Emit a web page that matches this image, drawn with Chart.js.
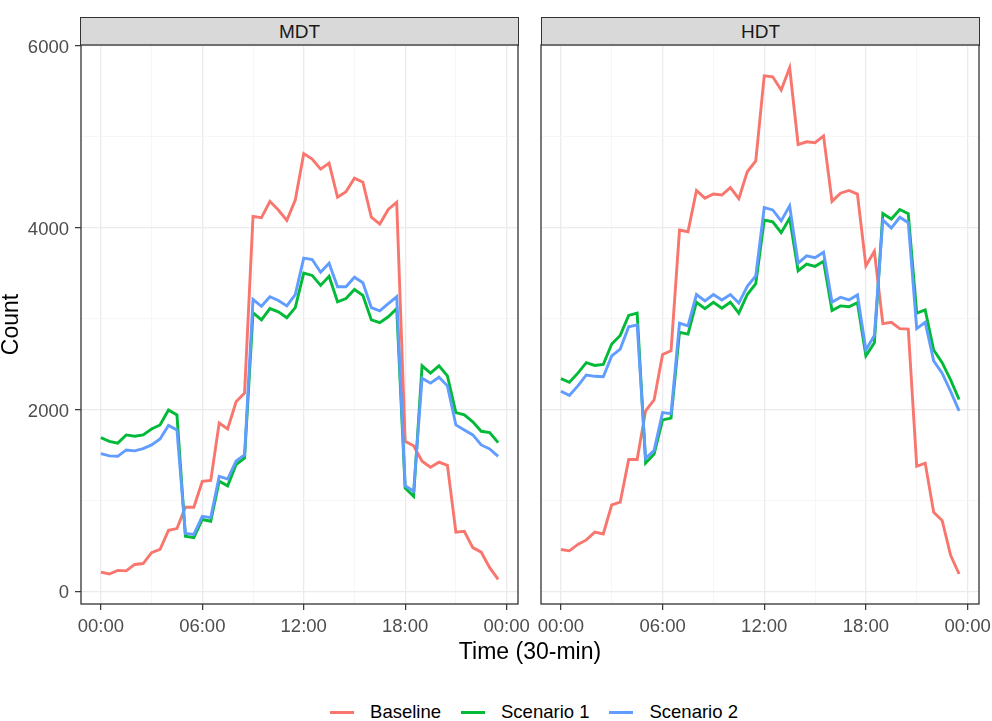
<!DOCTYPE html>
<html>
<head>
<meta charset="utf-8">
<script src="https://cdn.jsdelivr.net/npm/chart.js@4.4.0/dist/chart.umd.min.js"></script>
<style>
  html, body { margin:0; padding:0; background:#ffffff; }
  body { width:992px; height:721px; position:relative; overflow:hidden; font-family:"Liberation Sans", Arial, sans-serif; }
  canvas { position:absolute; }
  .strip { position:absolute; top:17px; height:29px; box-sizing:border-box; border:1.3px solid #333333; background:#D9D9D9; color:#1A1A1A; font-size:19px; line-height:27px; text-align:center; }
  #xtitle { position:absolute; left:330px; width:400px; top:638px; font-size:23px; line-height:27px; text-align:center; color:#000; }
  #legend { position:absolute; left:0; width:1068px; top:701px; height:22px; display:flex; justify-content:center; align-items:center; font-size:18.5px; line-height:22px; color:#000; }
  #legend .item { display:flex; align-items:center; margin:0 10px; }
  #legend .sw { display:inline-block; width:24px; height:3px; margin-right:16px; }
</style>
</head>
<body>
<div class="strip" style="left:80px; width:439px;">MDT</div>
<div class="strip" style="left:541px; width:439px;">HDT</div>
<canvas id="cMDT" width="545" height="610" style="left:0px; top:40px;"></canvas>
<canvas id="cHDT" width="462" height="610" style="left:530px; top:40px;"></canvas>
<div id="xtitle">Time (30-min)</div>
<div id="legend"></div>
<script>
// ---- categories (half-hour time slots) ----
const timeLabels = ["00:00","00:30","01:00","01:30","02:00","02:30","03:00","03:30",
  "04:00","04:30","05:00","05:30","06:00","06:30","07:00","07:30",
  "08:00","08:30","09:00","09:30","10:00","10:30","11:00","11:30",
  "12:00","12:30","13:00","13:30","14:00","14:30","15:00","15:30",
  "16:00","16:30","17:00","17:30","18:00","18:30","19:00","19:30",
  "20:00","20:30","21:00","21:30","22:00","22:30","23:00","23:30"];

// ---- series names ----
const seriesNames = ["Baseline","Scenario 1","Scenario 2"];
const panelNames = ["MDT","HDT"];

// ---- MDT values ----
const mdtBaseline = [210,190,230,225,295,305,425,460,670,690,925,925,1210,1220,1850,1785,
  2085,2180,4125,4110,4290,4195,4080,4305,4815,4755,4645,4710,4335,4395,4545,4500,
  4115,4040,4200,4280,1650,1600,1430,1365,1420,1385,650,660,480,430,260,130];
const mdtScenario1 = [1690,1650,1630,1720,1705,1720,1785,1830,1995,1940,605,590,790,770,1210,1160,
  1395,1465,3065,2985,3110,3075,3010,3120,3500,3475,3365,3465,3185,3220,3320,3255,
  2985,2955,3020,3110,1135,1045,2480,2400,2480,2370,1965,1940,1865,1760,1745,1635];
const mdtScenario2 = [1515,1490,1485,1555,1545,1570,1610,1675,1825,1775,635,625,825,810,1265,1235,
  1435,1500,3210,3135,3240,3200,3140,3265,3665,3650,3510,3610,3350,3350,3455,3395,
  3120,3085,3165,3240,1160,1100,2345,2290,2355,2260,1830,1775,1720,1610,1565,1485];

// ---- HDT values ----
const hdtBaseline = [460,445,515,565,650,630,950,980,1450,1450,1985,2105,2605,2645,3975,3955,
  4410,4325,4370,4360,4440,4320,4615,4735,5670,5660,5515,5760,4915,4945,4935,5010,
  4290,4380,4410,4370,3580,3740,2945,2960,2890,2885,1375,1410,870,780,395,190];
const hdtScenario1 = [2340,2300,2400,2515,2485,2495,2720,2815,3035,3060,1410,1510,1885,1905,2850,2830,
  3180,3110,3180,3115,3180,3060,3265,3385,4085,4065,3945,4105,3525,3600,3575,3630,
  3090,3140,3130,3175,2590,2735,4155,4095,4200,4155,3060,3095,2655,2515,2325,2110];
const hdtScenario2 = [2200,2155,2260,2380,2365,2360,2590,2665,2910,2930,1460,1550,1965,1955,2950,2920,
  3265,3195,3265,3205,3265,3170,3355,3470,4220,4195,4075,4240,3610,3690,3670,3730,
  3180,3235,3205,3260,2655,2815,4085,3995,4115,4055,2890,2960,2535,2400,2200,1985];

// ---- axis ticks ----
const xTickHours = [0,6,12,18,24];
const xTickLabels = ["00:00","06:00","12:00","18:00","00:00"];
const xMinorHours = [3,9,15,21];
const yTickValues = [0,2000,4000,6000];
const yMinorValues = [1000,3000,5000];

// ---- styling ----
const seriesColors = ["#F8766D","#00BA38","#619CFF"];
const FONT = '"Liberation Sans", Arial, sans-serif';

function toHours(lbl){ const p = lbl.split(":"); return Number(p[0]) + Number(p[1])/60; }

const panelBorder = {
  id:'panelBorder',
  afterDraw(chart){
    const a = chart.chartArea, ctx = chart.ctx;
    ctx.save();
    ctx.strokeStyle = '#333333';
    ctx.lineWidth = 1.3;
    ctx.strokeRect(a.left, a.top, a.right - a.left, a.bottom - a.top);
    ctx.restore();
  }
};

function makePanel(id, series, showY){
  const datasets = series.map((vals,k)=>({
    label: seriesNames[k],
    data: vals.map((v,i)=>({x: toHours(timeLabels[i]), y: v})),
    borderColor: seriesColors[k],
    backgroundColor: seriesColors[k],
    borderWidth: 2.9,
    pointRadius: 0,
    tension: 0,
    fill: false,
    order: 2 - k
  }));
  const isMajX = v => xTickHours.indexOf(v) >= 0;
  const isMajY = v => yTickValues.indexOf(v) >= 0;
  return new Chart(document.getElementById(id), {
    type:'line',
    data:{ datasets },
    plugins:[panelBorder],
    options:{
      responsive:false,
      animation:false,
      devicePixelRatio:1,
      layout:{ padding:{ top:5, left:0, bottom:0, right: showY ? 27 : 13 } },
      plugins:{ legend:{display:false}, tooltip:{enabled:false}, title:{display:false} },
      scales:{
        x:{
          type:'linear', min:-1.175, max:24.675,
          afterBuildTicks: s => { s.ticks = xTickHours.concat(xMinorHours).sort((a,b)=>a-b).map(v=>({value:v})); },
          afterFit: s => { s.height = 46; s.paddingLeft = 0; s.paddingRight = 0; },
          border:{ display:false },
          grid:{
            color: c => isMajX(c.tick && c.tick.value) ? '#EBEBEB' : '#F4F4F4',
            lineWidth: c => isMajX(c.tick && c.tick.value) ? 1.3 : 0.8,
            tickColor: c => isMajX(c.tick && c.tick.value) ? '#333333' : 'rgba(0,0,0,0)',
            tickLength: 6,
            tickWidth: 1.2
          },
          ticks:{
            autoSkip:false, maxRotation:0, minRotation:0, padding:6,
            color:'#4D4D4D', font:{ family:FONT, size:18.5 },
            callback: v => { const i = xTickHours.indexOf(v); return i >= 0 ? xTickLabels[i] : ''; }
          }
        },
        y:{
          type:'linear', min:-140, max:6010,
          afterBuildTicks: s => { s.ticks = yTickValues.concat(yMinorValues).sort((a,b)=>a-b).map(v=>({value:v})); },
          afterFit: s => { s.width = showY ? 81 : 11; s.paddingTop = 0; s.paddingBottom = 0; },
          border:{ display:false },
          grid:{
            color: c => isMajY(c.tick && c.tick.value) ? '#EBEBEB' : '#F4F4F4',
            lineWidth: c => isMajY(c.tick && c.tick.value) ? 1.3 : 0.8,
            tickColor: c => (showY && isMajY(c.tick && c.tick.value)) ? '#333333' : 'rgba(0,0,0,0)',
            tickLength: 6,
            tickWidth: 1.2
          },
          ticks:{
            display: showY, padding:6, labelOffset:2,
            color:'#4D4D4D', font:{ family:FONT, size:18.5 },
            callback: v => isMajY(v) ? String(v) : ''
          },
          title:{
            display: showY, text:'Count', color:'#000000',
            font:{ family:FONT, size:23, lineHeight:1 }, padding:{top:0, bottom:0}
          }
        }
      }
    }
  });
}

makePanel('cMDT', [mdtBaseline, mdtScenario1, mdtScenario2], true);
makePanel('cHDT', [hdtBaseline, hdtScenario1, hdtScenario2], false);

// legend (HTML text)
const lg = document.getElementById('legend');
seriesNames.forEach((n,k)=>{
  const it = document.createElement('div'); it.className = 'item';
  const sw = document.createElement('span'); sw.className = 'sw'; sw.style.background = seriesColors[k];
  const tx = document.createElement('span'); tx.textContent = n;
  it.appendChild(sw); it.appendChild(tx); lg.appendChild(it);
});
</script>
</body>
</html>
